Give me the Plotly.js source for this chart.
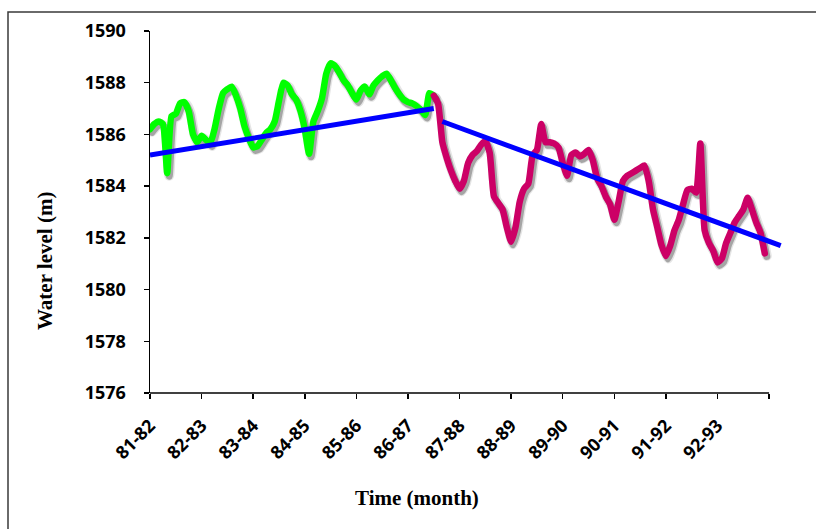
<!DOCTYPE html>
<html>
<head>
<meta charset="utf-8">
<script src="https://cdn.plot.ly/plotly-3.0.1.min.js"></script>
<style>
  html, body { margin: 0; padding: 0; background: #ffffff; }
  #chart { width: 816px; height: 529px; }
</style>
</head>
<body>
<div id="chart"></div>
<script>
// Monthly water level (m), rising period 81-82 .. mid 86-87
const risingStartMonth = 0;
const risingLevels = [
  1586.2, 1586.4, 1586.5, 1586.4, 1584.5, 1586.7, 1586.8, 1587.2, 1587.25, 1586.9,
  1586.0, 1585.7, 1585.95, 1585.8, 1585.65, 1586.2, 1587.0, 1587.6, 1587.75, 1587.85,
  1587.5, 1587.0, 1586.3, 1585.85, 1585.5, 1585.55, 1585.8, 1586.05, 1586.2, 1586.5,
  1587.3, 1588.0, 1587.9, 1587.55, 1587.35, 1586.9, 1586.2, 1585.25, 1586.5, 1586.9,
  1587.4, 1588.35, 1588.75, 1588.65, 1588.4, 1588.1, 1587.9, 1587.6, 1587.35, 1587.7,
  1587.85, 1587.55, 1587.9, 1588.1, 1588.25, 1588.35, 1588.1, 1587.8, 1587.55, 1587.35,
  1587.25, 1587.2, 1587.1, 1586.95, 1586.75, 1587.6, 1587.5
];

// Monthly water level (m), falling period mid 86-87 .. 92-93
const fallingStartMonth = 66;
const fallingLevels = [
  1587.5, 1587.2, 1585.7, 1585.1, 1584.6, 1584.2, 1583.9, 1584.2, 1584.9, 1585.2,
  1585.35, 1585.6, 1585.75, 1585.3, 1583.6, 1583.35, 1583.1, 1582.4, 1581.85, 1582.4,
  1583.4, 1583.9, 1584.1, 1585.2, 1585.4, 1586.4, 1585.7, 1585.7, 1585.65, 1585.5,
  1584.9, 1584.4, 1585.2, 1585.3, 1585.15, 1585.25, 1585.4, 1585.0, 1584.3, 1584.0,
  1583.6, 1583.3, 1582.7, 1583.4, 1584.2, 1584.4, 1584.5, 1584.6, 1584.7, 1584.8,
  1584.2, 1583.1, 1582.4, 1581.7, 1581.3, 1581.7, 1582.3, 1582.7, 1583.3, 1583.85,
  1583.9, 1583.75, 1585.65, 1582.3, 1581.8, 1581.5, 1581.05, 1581.2, 1581.8, 1582.2,
  1582.6, 1582.85, 1583.1, 1583.55, 1583.1, 1582.6, 1582.2, 1581.4
];

// Linear trend lines (month, level)
const risingTrendMonths = [0, 66];
const risingTrendLevels = [1585.2, 1587.0];
const fallingTrendMonths = [68, 146.7];
const fallingTrendLevels = [1586.5, 1581.7];

// Water-year labels, one every 12 months
const yearLabels = ['81-82', '82-83', '83-84', '84-85', '85-86', '86-87',
                    '87-88', '88-89', '89-90', '90-91', '91-92', '92-93', ''];

const monthsFrom = (start, arr) => arr.map((_, i) => start + i);
const yearTicks = yearLabels.map((_, i) => i * 12);
const lastTick = yearTicks[yearTicks.length - 1];

const tickFont = { family: 'Open Sans, sans-serif', size: 18, color: '#000000', weight: 700 };
const titleFont = { family: 'Liberation Serif, Times New Roman, serif', size: 21, color: '#000000', weight: 700 };

const traces = [
  {
    x: monthsFrom(risingStartMonth, risingLevels), y: risingLevels,
    type: 'scatter', mode: 'lines',
    line: { color: '#00ff00', width: 6.5, shape: 'spline', smoothing: 0.5 },
    hoverinfo: 'skip', showlegend: false
  },
  {
    x: monthsFrom(fallingStartMonth, fallingLevels), y: fallingLevels,
    type: 'scatter', mode: 'lines',
    line: { color: '#cc0066', width: 6.5, shape: 'spline', smoothing: 0.5 },
    hoverinfo: 'skip', showlegend: false
  },
  {
    x: risingTrendMonths, y: risingTrendLevels,
    type: 'scatter', mode: 'lines',
    line: { color: '#0000ff', width: 5 },
    hoverinfo: 'skip', showlegend: false
  },
  {
    x: fallingTrendMonths, y: fallingTrendLevels,
    type: 'scatter', mode: 'lines',
    line: { color: '#0000ff', width: 5 },
    hoverinfo: 'skip', showlegend: false
  }
];

const plotLeft = 150, plotTop = 31, plotWidth = 632, plotHeight = 362;
const px = v => (v - plotLeft) / plotWidth;              // page x -> paper x
const py = v => (plotTop + plotHeight - v) / plotHeight; // page y -> paper y

const layout = {
  width: 816, height: 529,
  margin: { l: plotLeft, r: 816 - plotLeft - plotWidth, t: plotTop, b: 529 - plotTop - plotHeight, pad: 0 },
  paper_bgcolor: '#ffffff', plot_bgcolor: '#ffffff',
  showlegend: false,
  xaxis: {
    range: [0, 147], fixedrange: true,
    showline: false, showgrid: false, zeroline: false,
    tickmode: 'array', tickvals: yearTicks, ticktext: yearLabels,
    ticks: 'outside', ticklen: 5, tickwidth: 1.5, tickcolor: '#000000',
    tickangle: -45, tickfont: tickFont, ticklabelstandoff: 9
  },
  yaxis: {
    range: [1576, 1590], fixedrange: true,
    dtick: 2, tick0: 1576,
    showline: true, linecolor: '#000000', linewidth: 1.5,
    showgrid: false, zeroline: false,
    ticks: 'outside', ticklen: 5, tickwidth: 1.5, tickcolor: '#000000',
    tickfont: tickFont, ticklabelstandoff: 14
  },
  shapes: [
    // category axis baseline, spanning the labelled years
    { type: 'line', xref: 'x', yref: 'paper', x0: 0, x1: lastTick, y0: 0, y1: 0,
      line: { color: '#000000', width: 1.5 } },
    // outer chart border
    { type: 'rect', xref: 'paper', yref: 'paper',
      x0: px(8), x1: px(830), y0: py(545), y1: py(12),
      line: { color: '#3a3a3a', width: 1.5 }, fillcolor: 'rgba(0,0,0,0)', layer: 'below' }
  ],
  annotations: [
    { text: 'Time (month)', xref: 'paper', yref: 'paper', x: px(417), y: py(498),
      xanchor: 'center', yanchor: 'middle', showarrow: false, font: titleFont },
    { text: 'Water level (m)', xref: 'paper', yref: 'paper', x: px(45), y: py(261),
      xanchor: 'center', yanchor: 'middle', textangle: -90, showarrow: false, font: titleFont }
  ]
};

// Soft offset shadow under the two water-level series:
// semi-transparent copies of each line path, nudged down-right.
function addLineShadow(gd) {
  const shadowLayers = [
    { dx: 2, dy: 2.5, width: 10, color: 'rgba(0,0,0,0.10)' },
    { dx: 2, dy: 3, width: 7, color: 'rgba(0,0,0,0.28)' }
  ];
  const traceGroups = gd.querySelectorAll('.scatterlayer .trace');
  [0, 1].forEach(i => {
    const line = traceGroups[i] && traceGroups[i].querySelector('path.js-line');
    if (!line) return;
    shadowLayers.forEach(s => {
      const copy = line.cloneNode(false);
      copy.classList.remove('js-line');
      copy.setAttribute('transform', 'translate(' + s.dx + ',' + s.dy + ')');
      copy.style.stroke = s.color;
      copy.style.strokeWidth = s.width + 'px';
      copy.style.strokeLinejoin = 'round';
      copy.style.strokeLinecap = 'round';
      line.parentNode.insertBefore(copy, line);
    });
    line.style.strokeLinejoin = 'round';
    line.style.strokeLinecap = 'round';
  });
}

Plotly.newPlot('chart', traces, layout, { staticPlot: true, displayModeBar: false })
  .then(addLineShadow);
</script>
</body>
</html>
